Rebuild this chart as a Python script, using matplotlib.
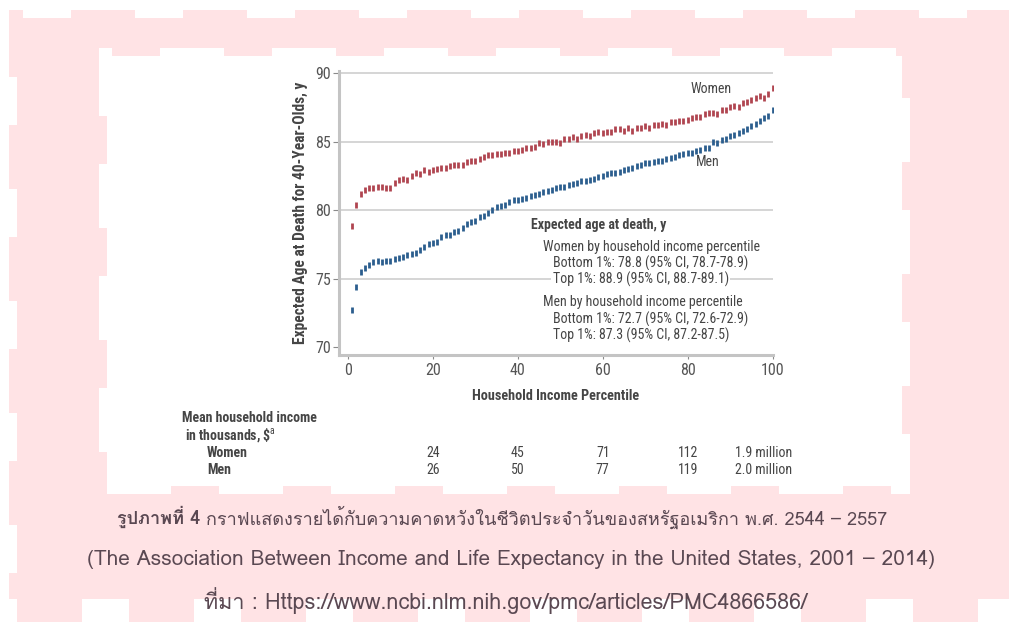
import matplotlib
matplotlib.use("Agg")
import matplotlib.pyplot as plt
import matplotlib.transforms as mtransforms
from matplotlib.patches import Rectangle
from matplotlib import font_manager
from matplotlib.ft2font import FT2Font

W, H = 1009, 622

# expected age at death for 40-year-olds, by household income percentile
percentile = list(range(1, 101))
women = [78.8, 80.4, 81.2, 81.5, 81.6, 81.6, 81.7, 81.7, 81.6, 81.6,
         82.0, 82.2, 82.3, 82.2, 82.5, 82.7, 82.6, 82.9, 82.8, 82.9,
         83.0, 83.1, 83.1, 83.2, 83.3, 83.3, 83.3, 83.5, 83.6, 83.6,
         83.7, 83.9, 84.0, 84.0, 84.1, 84.1, 84.2, 84.2, 84.3, 84.3,
         84.4, 84.5, 84.5, 84.6, 84.9, 84.8, 85.0, 85.0, 85.0, 84.9,
         85.2, 85.2, 85.3, 85.2, 85.4, 85.5, 85.4, 85.6, 85.7, 85.6,
         85.7, 85.7, 85.9, 85.9, 85.8, 86.0, 85.8, 86.0, 86.0, 86.1,
         86.0, 86.2, 86.2, 86.3, 86.2, 86.4, 86.4, 86.5, 86.5, 86.6,
         86.7, 86.8, 86.8, 87.0, 87.1, 87.1, 87.0, 87.3, 87.3, 87.5,
         87.6, 87.5, 87.8, 87.9, 88.0, 88.2, 88.3, 88.2, 88.5, 88.9]
men = [72.7, 74.4, 75.5, 75.8, 76.0, 76.2, 76.3, 76.2, 76.3, 76.3,
       76.4, 76.5, 76.6, 76.7, 76.8, 76.9, 77.1, 77.3, 77.5, 77.6,
       77.7, 78.0, 78.2, 78.2, 78.4, 78.5, 78.7, 79.0, 79.1, 79.2,
       79.5, 79.6, 79.8, 80.0, 80.2, 80.3, 80.4, 80.6, 80.7, 80.7,
       80.8, 80.9, 81.0, 81.1, 81.2, 81.3, 81.4, 81.5, 81.6, 81.7,
       81.7, 81.8, 81.9, 82.0, 82.1, 82.1, 82.2, 82.3, 82.4, 82.5,
       82.6, 82.7, 82.7, 82.8, 82.9, 83.0, 83.1, 83.2, 83.3, 83.4,
       83.4, 83.5, 83.6, 83.6, 83.7, 83.8, 83.9, 84.0, 84.1, 84.2,
       84.2, 84.3, 84.4, 84.5, 84.5, 85.0, 84.9, 85.1, 85.2, 85.4,
       85.5, 85.6, 85.8, 85.9, 86.1, 86.3, 86.5, 86.7, 86.9, 87.3]

yticks = [70, 75, 80, 85, 90]
xticks = [0, 20, 40, 60, 80, 100]

# mean household income table under the x axis
income_pct = [20, 40, 60, 80, 100]
women_income = ["24", "45", "71", "112", "1.9 million"]
men_income = ["26", "50", "77", "119", "2.0 million"]

RED = "#b04550"
BLUE = "#2c5e8e"
PINK = "#ffe3e5"
INK = "#454545"
CAP = "#5a4852"


def pick_narrow():
    fonts = font_manager.fontManager.ttflist
    names = {f.name for f in fonts}
    for fam in ["Liberation Sans Narrow", "Roboto Condensed",
                "Open Sans Condensed", "Noto Sans Condensed"]:
        if fam in names:
            return fam, "normal", 10
    for fam in ["Noto Sans", "Open Sans", "Roboto", "DejaVu Sans"]:
        if any(f.name == fam and f.stretch == "condensed" for f in fonts):
            return fam, "condensed", 9.6
    return "Lato", "normal", 9.3


def find_thai_font():
    for f in font_manager.fontManager.ttflist:
        try:
            if 0x0E01 in FT2Font(f.fname).get_charmap():
                return f.name
        except Exception:
            pass
    return "DejaVu Sans"


NFAM, NSTRETCH, FS = pick_narrow()
NARROW = dict(family=[NFAM, "DejaVu Sans"], fontstretch=NSTRETCH)
THAI = [find_thai_font(), "DejaVu Sans"]
plt.rcParams["mathtext.fontset"] = "custom"
plt.rcParams["mathtext.rm"] = NFAM

fig = plt.figure(figsize=(W / 100, H / 100), dpi=100)
fig.patch.set_facecolor("white")

# page background: pink card with dashed edges and a white panel
bg = fig.add_axes([0, 0, 1, 1], zorder=0)
bg.set_xlim(0, W)
bg.set_ylim(H, 0)
bg.axis("off")


def box(x0, y0, x1, y1, color):
    bg.add_patch(Rectangle((x0, y0), x1 - x0, y1 - y0, color=color, lw=0))


box(9, 10, W, 599, PINK)
for x in range(23, W, 112):
    box(x, 10, min(x + 48, W), 18, "white")
for y in range(77, 599, 112):
    box(9, y, 17, min(y + 48, 599), "white")
for x in range(17, W, 112):
    box(x, 599, min(x + 65, W), H, PINK)

box(99, 48, 910, 494, "white")
for x in range(112, 910, 112):
    box(x, 48, min(x + 48, 910), 56, PINK)
for y in range(50, 494, 112):
    box(902, y, 910, min(y + 48, 494), PINK)
for y in range(116, 494, 112):
    box(99, y, 107, min(y + 48, 494), PINK)
for x in range(59, 910, 112):
    box(x, 486, min(x + 48, 910), 494, PINK)

# chart
ax = fig.add_axes([339 / W, 1 - 355 / H, (773 - 339) / W, (355 - 71) / H], zorder=1)
ax.patch.set_alpha(0)
ax.set_xlim(-2.1, 100.1)
ax.set_ylim(69.42, 90.15)
ax.hlines(yticks[1:], -2.1, 100, color="#d2d2d2", lw=1.3, zorder=1)

ax.plot(percentile, women, ls="none", marker="|", ms=4.3, mew=2.0, color=RED, zorder=3)
ax.plot(percentile, men, ls="none", marker="|", ms=4.3, mew=2.0, color=BLUE, zorder=3)

for s in ["top", "right"]:
    ax.spines[s].set_visible(False)
for s in ["left", "bottom"]:
    ax.spines[s].set_color("#c4c4c4")
    ax.spines[s].set_linewidth(2.2)

ax.set_yticks(yticks)
ax.set_xticks(xticks)
ax.tick_params(axis="both", color="#8a8a8a", labelcolor="#555555", width=0.8,
               labelsize=FS + 1.5)
ax.tick_params(axis="y", length=4, pad=2)
ax.tick_params(axis="x", length=3, pad=3)
for lab in ax.get_xticklabels() + ax.get_yticklabels():
    lab.set_family(NARROW["family"])
    lab.set_stretch(NSTRETCH)

ax.set_ylabel("Expected Age at Death for 40-Year-Olds, y", fontsize=FS + 1.2,
              fontweight="bold", color=INK, labelpad=5, **NARROW)
ax.set_xlabel("Household Income Percentile", fontsize=FS + 0.3,
              fontweight="bold", color=INK, labelpad=8, **NARROW)

ax.text(85.6, 88.83, "Women", fontsize=FS, color=INK,
        ha="center", va="center", zorder=4, **NARROW)
ax.text(84.7, 83.5, "Men", fontsize=FS, color=INK,
        ha="center", va="center", zorder=4, **NARROW)

note = [
    (43.1, 78.9, "Expected age at death, y", "bold"),
    (45.9, 77.3, "Women by household income percentile", "normal"),
    (48.2, 76.13, "Bottom 1%: 78.8 (95% CI, 78.7-78.9)", "normal"),
    (48.2, 74.96, "Top 1%: 88.9 (95% CI, 88.7-89.1)", "normal"),
    (45.9, 73.29, "Men by household income percentile", "normal"),
    (48.2, 72.04, "Bottom 1%: 72.7 (95% CI, 72.6-72.9)", "normal"),
    (48.2, 70.88, "Top 1%: 87.3 (95% CI, 87.2-87.5)", "normal"),
]
for x, y, s, w in note:
    ax.text(x, y, s, fontsize=FS, fontweight=w, color=INK,
            ha="left", va="center", zorder=4,
            bbox=dict(fc="white", ec="none", pad=1), **NARROW)


def px(x, y):
    return x / W, 1 - y / H


fig.text(*px(182, 418), "Mean household income", fontsize=FS,
         fontweight="bold", color=INK, va="center", **NARROW)
fig.text(*px(185, 435), r"in thousands, \$$^{\mathrm{a}}$", fontsize=FS,
         fontweight="bold", color=INK, va="center", **NARROW)
fig.text(*px(207, 453), "Women", fontsize=FS, fontweight="bold",
         color=INK, va="center", **NARROW)
fig.text(*px(207, 470), "Men", fontsize=FS, fontweight="bold",
         color=INK, va="center", **NARROW)

tx = mtransforms.blended_transform_factory(ax.transData, fig.transFigure)
shift = mtransforms.ScaledTranslation(-9 / 100, 0, fig.dpi_scale_trans)
for p, wv, mv in zip(income_pct, women_income, men_income):
    t = tx + shift if p == 100 else tx
    fig.text(p, 1 - 453 / H, wv, transform=t, fontsize=FS,
             color=INK, ha="center", va="center", **NARROW)
    fig.text(p, 1 - 470 / H, mv, transform=t, fontsize=FS,
             color=INK, ha="center", va="center", **NARROW)

# caption: bold figure number followed by the regular title
renderer = fig.canvas.get_renderer()
head = fig.text(0, 1 - 517 / H, "รูปภาพที่ 4 ", family=THAI, fontsize=13,
                fontweight="bold", color=CAP, va="center")
body = fig.text(0, 1 - 517 / H,
                "กราฟแสดงรายได้กับความคาดหวังในชีวิตประจำวันของสหรัฐอเมริกา พ.ศ. 2544 – 2557",
                family=THAI, fontsize=13, color=CAP, va="center")
hw = head.get_window_extent(renderer).width
bw = body.get_window_extent(renderer).width
x0 = (502 - (hw + bw) / 2) / W
head.set_x(x0)
body.set_x(x0 + hw / W)

fig.text(*px(511, 559),
         "(The Association Between Income and Life Expectancy in the United States, 2001 – 2014)",
         family=THAI, fontsize=15, color=CAP, ha="center", va="center")
fig.text(*px(506, 601), "ที่มา : Https://www.ncbi.nlm.nih.gov/pmc/articles/PMC4866586/",
         family=THAI, fontsize=15.5, color=CAP, ha="center", va="center")

fig.savefig("out.png", dpi=100, facecolor="white")
